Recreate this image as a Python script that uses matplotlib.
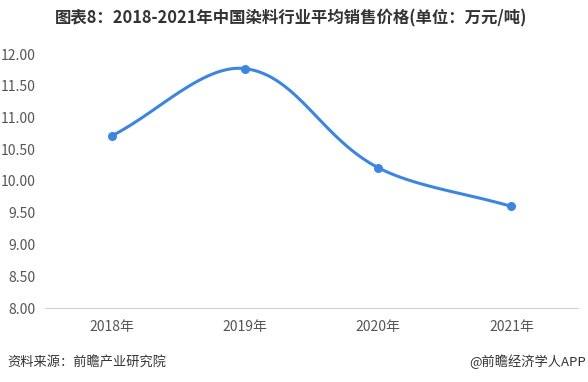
import numpy as np
import matplotlib
matplotlib.use("Agg")
import matplotlib.pyplot as plt

plt.rcParams['font.family'] = ['Noto Sans CJK SC', 'DejaVu Sans']

years = ["2018年", "2019年", "2020年", "2021年"]
prices = [10.71, 11.77, 10.21, 9.60]
yticks = [8.0, 8.5, 9.0, 9.5, 10.0, 10.5, 11.0, 11.5, 12.0]

title = "图表8：2018-2021年中国染料行业平均销售价格(单位：万元/吨)"
source = "资料来源：前瞻产业研究院"
credit = "@前瞻经济学人APP"
color = "#3d85e0"


def smooth_path(xs, ys, sx, sy, smooth=0.35, n=40):
    # echarts-like bezier smoothing, done in pixel-ish space
    px = np.array(xs, float) * sx
    py = np.array(ys, float) * sy
    pts = np.stack([px, py], axis=1)
    m = len(pts)
    cps = []
    for i in range(m):
        prev = pts[i - 1] if i > 0 else pts[i]
        nxt = pts[i + 1] if i < m - 1 else pts[i]
        v = nxt - prev
        d0 = np.linalg.norm(pts[i] - prev)
        d1 = np.linalg.norm(nxt - pts[i])
        tot = d0 + d1
        r = d0 / tot if tot else 0.5
        cps.append((pts[i] - v * smooth * r, pts[i] + v * smooth * (1 - r)))
    out = []
    t = np.linspace(0, 1, n)[:, None]
    for i in range(m - 1):
        p0, p3 = pts[i], pts[i + 1]
        p1, p2 = cps[i][1], cps[i + 1][0]
        seg = ((1 - t) ** 3) * p0 + 3 * ((1 - t) ** 2) * t * p1 + 3 * (1 - t) * t ** 2 * p2 + t ** 3 * p3
        out.append(seg)
    out = np.vstack(out)
    return out[:, 0] / sx, out[:, 1] / sy


fig = plt.figure(figsize=(5.88, 3.82), dpi=100)
ax = fig.add_axes([45 / 588, 74 / 382, 533 / 588, 254 / 382])

x = np.arange(len(years))
cx, cy = smooth_path(x, prices, 133, 127)
ax.plot(cx, cy, color=color, linewidth=2.2, solid_capstyle="round", zorder=3)
ax.scatter(x, prices, s=30, color=color, zorder=4)

ax.set_xlim(-0.5, 3.5)
ax.set_ylim(8, 12)
ax.set_yticks(yticks)
ax.set_yticklabels([f"{v:.2f}" for v in yticks])
ax.set_xticks(x)
ax.set_xticklabels(years)
for s in ["top", "right", "left"]:
    ax.spines[s].set_visible(False)
ax.spines["bottom"].set_color("#d0d0d0")
ax.tick_params(axis="both", length=0, labelsize=10, colors="#555555")
ax.tick_params(axis="x", pad=9)
ax.tick_params(axis="y", pad=7)

fig.text(291 / 588, 1 - 18 / 382, title, ha="center", va="center", fontsize=11.8,
         fontweight="bold", color="#333333")
fig.text(7 / 588, 1 - 362 / 382, source, ha="left", va="center", fontsize=9.5, color="#333333")
fig.text(586 / 588, 1 - 362 / 382, credit, ha="right", va="center", fontsize=9.5, color="#333333")

fig.savefig("out.png", dpi=100)
